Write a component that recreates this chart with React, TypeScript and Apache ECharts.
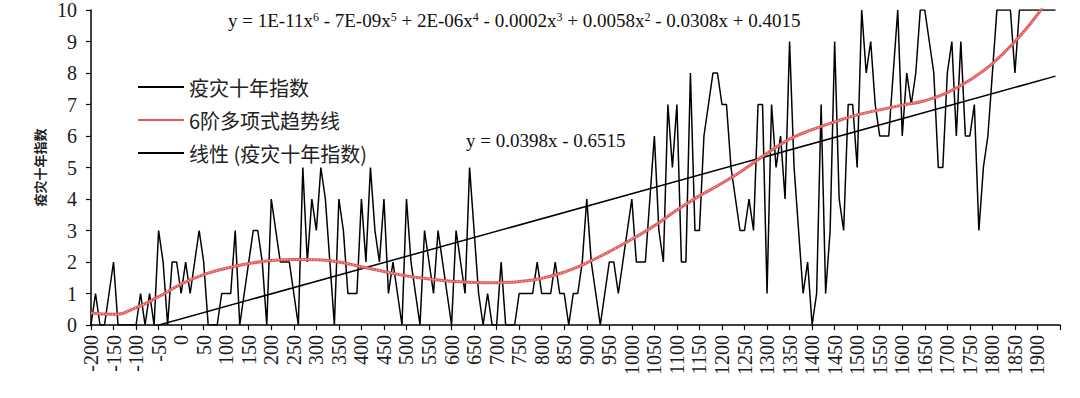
import React, { useEffect, useRef } from "react";
import * as echarts from "echarts";

// Category axis: decades from -200 to 1950 (1950 is the axis end, no value)
const years = [
  -200, -190, -180, -170, -160, -150, -140, -130, -120, -110,
  -100, -90, -80, -70, -60, -50, -40, -30, -20, -10,
  0, 10, 20, 30, 40, 50, 60, 70, 80, 90,
  100, 110, 120, 130, 140, 150, 160, 170, 180, 190,
  200, 210, 220, 230, 240, 250, 260, 270, 280, 290,
  300, 310, 320, 330, 340, 350, 360, 370, 380, 390,
  400, 410, 420, 430, 440, 450, 460, 470, 480, 490,
  500, 510, 520, 530, 540, 550, 560, 570, 580, 590,
  600, 610, 620, 630, 640, 650, 660, 670, 680, 690,
  700, 710, 720, 730, 740, 750, 760, 770, 780, 790,
  800, 810, 820, 830, 840, 850, 860, 870, 880, 890,
  900, 910, 920, 930, 940, 950, 960, 970, 980, 990,
  1000, 1010, 1020, 1030, 1040, 1050, 1060, 1070, 1080, 1090,
  1100, 1110, 1120, 1130, 1140, 1150, 1160, 1170, 1180, 1190,
  1200, 1210, 1220, 1230, 1240, 1250, 1260, 1270, 1280, 1290,
  1300, 1310, 1320, 1330, 1340, 1350, 1360, 1370, 1380, 1390,
  1400, 1410, 1420, 1430, 1440, 1450, 1460, 1470, 1480, 1490,
  1500, 1510, 1520, 1530, 1540, 1550, 1560, 1570, 1580, 1590,
  1600, 1610, 1620, 1630, 1640, 1650, 1660, 1670, 1680, 1690,
  1700, 1710, 1720, 1730, 1740, 1750, 1760, 1770, 1780, 1790,
  1800, 1810, 1820, 1830, 1840, 1850, 1860, 1870, 1880, 1890,
  1900, 1910, 1920, 1930, 1940, 1950,
];

// 疫灾十年指数, one value per decade from -200 to 1940
const epidemicIndex = [
  0, 1, 0, 0, 1, 2, 0, 0, 0, 0,
  0, 1, 0, 1, 0, 3, 2, 0, 2, 2,
  1, 2, 1, 2, 3, 2, 0, 0, 0, 1,
  1, 1, 3, 0, 1, 2, 3, 3, 2, 0,
  4, 3, 2, 2, 2, 1, 0, 5, 2, 4,
  3, 5, 4, 2, 0, 4, 3, 1, 1, 1,
  4, 2, 5, 3, 2, 4, 1, 2, 1, 0,
  4, 2, 1, 0, 3, 2, 1, 3, 2, 1,
  0, 3, 2, 1, 5, 3, 1, 0, 1, 0,
  0, 2, 0, 0, 0, 1, 1, 1, 1, 2,
  1, 1, 1, 2, 1, 1, 0, 1, 1, 2,
  4, 2, 1, 0, 1, 2, 2, 1, 2, 3,
  4, 2, 2, 2, 4, 6, 3, 2, 7, 5,
  7, 2, 2, 8, 3, 3, 6, 7, 8, 8,
  7, 7, 5, 4, 3, 3, 4, 3, 7, 7,
  1, 7, 5, 6, 4, 9, 5, 3, 1, 2,
  0, 1, 7, 1, 3, 9, 4, 3, 7, 7,
  5, 10, 8, 9, 7, 6, 6, 6, 8, 10,
  6, 8, 7, 8, 10, 10, 9, 8, 5, 5,
  8, 9, 6, 9, 6, 6, 7, 3, 5, 6,
  8, 10, 10, 10, 10, 8, 10, 10, 10, 10,
  10, 10, 10, 10, 10,
];

// 6th-order polynomial trend line
const polyYears = [
  -200, -150, -100, -50, 0, 50, 100, 150, 200, 250, 300, 350, 400, 450, 500,
  550, 600, 650, 700, 750, 800, 850, 900, 950, 1000, 1050, 1100, 1150, 1200,
  1250, 1300, 1350, 1400, 1450, 1500, 1550, 1600, 1650, 1700, 1750, 1800, 1850,
  1900, 1940,
];
const polyValues = [
  0.38, 0.34, 0.55, 0.9, 1.3, 1.6, 1.8, 1.95, 2.05, 2.08, 2.07, 2.0, 1.85, 1.7,
  1.56, 1.46, 1.39, 1.35, 1.34, 1.38, 1.48, 1.68, 1.97, 2.33, 2.72, 3.15, 3.65,
  4.1, 4.5, 4.95, 5.45, 5.9, 6.2, 6.45, 6.67, 6.83, 6.98, 7.12, 7.38, 7.78, 8.3,
  9.0, 9.85, 10.75,
];

// Linear trend line end points
const linearYears = [-200, 1940];
const linearValues = [-0.6, 7.9];

const seriesNames = ["疫灾十年指数", "6阶多项式趋势线", "线性 (疫灾十年指数)"];
const yAxisName = "疫灾十年指数";
const polyEquation =
  "y = 1E-11x{s|6} - 7E-09x{s|5} + 2E-06x{s|4} - 0.0002x{s|3} + 0.0058x{s|2} - 0.0308x + 0.4015";
const linearEquation = "y = 0.0398x - 0.6515";

const SERIF = "'Liberation Serif', 'DejaVu Serif', serif";
const CJK = "'Noto Sans CJK SC', sans-serif";
const RED = "#e05a5a";

export default function App() {
  const ref = useRef<HTMLDivElement>(null);

  useEffect(() => {
    if (!ref.current) return;
    const chart = echarts.init(ref.current, null, { renderer: "svg" });
    const cats = years.map(String);
    const lastIndex = epidemicIndex.length; // index of the axis-end category
    const polyData = polyYears.map((y, i) => [String(y), polyValues[i]]);

    const option: any = {
      animation: false,
      backgroundColor: "#ffffff",
      grid: { left: 91, right: 20, top: 10, bottom: 73, containLabel: false },
      legend: {
        orient: "vertical",
        left: 133,
        top: 72,
        itemWidth: 46,
        itemHeight: 2,
        itemGap: 13,
        icon: "rect",
        selectedMode: false,
        data: seriesNames,
        textStyle: { fontFamily: CJK, fontSize: 20, color: "#222" },
      },
      xAxis: {
        type: "category",
        data: cats,
        boundaryGap: false,
        axisLine: { lineStyle: { color: "#000", width: 1.5 } },
        axisTick: {
          interval: (i: number) => i % 5 === 0,
          length: 5,
          lineStyle: { color: "#000", width: 1.2 },
        },
        axisLabel: {
          interval: (i: number) => i % 5 === 0 && i < lastIndex,
          rotate: 90,
          margin: 10,
          fontFamily: SERIF,
          fontSize: 20,
          color: "#1a1a1a",
        },
        splitLine: { show: false },
      },
      yAxis: {
        type: "value",
        min: 0,
        max: 10,
        interval: 1,
        name: yAxisName,
        nameLocation: "middle",
        nameRotate: 90,
        nameGap: 42,
        nameTextStyle: { fontFamily: CJK, fontSize: 13, fontWeight: "bold", color: "#222" },
        axisLine: { show: true, lineStyle: { color: "#000", width: 1.5 } },
        axisTick: { show: true, length: 5, lineStyle: { color: "#000", width: 1.2 } },
        axisLabel: { margin: 14, fontFamily: SERIF, fontSize: 20, color: "#1a1a1a" },
        splitLine: { show: false },
      },
      series: [
        {
          name: seriesNames[0],
          type: "line",
          data: epidemicIndex,
          symbol: "none",
          showSymbol: false,
          lineStyle: { color: "#000", width: 1.5 },
          itemStyle: { color: "#000" },
          z: 2,
        },
        {
          name: seriesNames[1],
          type: "line",
          data: polyData,
          smooth: true,
          symbol: "none",
          showSymbol: false,
          lineStyle: { color: RED, width: 3 },
          itemStyle: { color: RED },
          z: 4,
        },
        {
          name: "poly-texture",
          type: "line",
          data: polyData,
          smooth: true,
          symbol: "none",
          showSymbol: false,
          silent: true,
          lineStyle: { color: "#ffd8d8", width: 1, type: [1, 2] },
          itemStyle: { color: "#ffd8d8" },
          z: 5,
        },
        {
          name: seriesNames[2],
          type: "line",
          data: linearYears.map((y, i) => [String(y), linearValues[i]]),
          symbol: "none",
          showSymbol: false,
          lineStyle: { color: "#000", width: 1.5 },
          itemStyle: { color: "#000" },
          z: 3,
        },
      ],
      graphic: [
        {
          type: "text",
          x: 228,
          y: 20,
          style: {
            text: polyEquation,
            fontFamily: SERIF,
            fontSize: 19,
            fill: "#111",
            verticalAlign: "middle",
            rich: {
              s: { fontFamily: SERIF, fontSize: 12, fill: "#111", verticalAlign: "top" },
            },
          },
        },
        {
          type: "text",
          x: 466,
          y: 140,
          style: {
            text: linearEquation,
            fontFamily: SERIF,
            fontSize: 19,
            fill: "#111",
            verticalAlign: "middle",
          },
        },
      ],
    };

    chart.setOption(option);
    return () => chart.dispose();
  }, []);

  return (
    <div
      ref={ref}
      style={{ position: "fixed", left: 0, top: 0, width: 1080, height: 398, background: "#fff" }}
    />
  );
}
